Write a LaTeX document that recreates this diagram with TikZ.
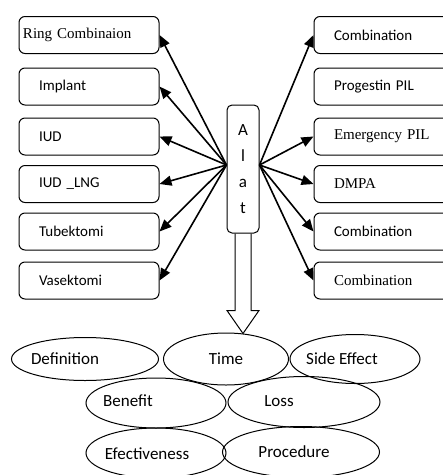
\documentclass[tikz,border=0pt]{standalone}
\usepackage{fontspec}
\setmainfont{Carlito}
\newfontfamily\timesfont{Liberation Serif}
\usetikzlibrary{arrows.meta,shapes.geometric}

\begin{document}
\begin{tikzpicture}[x=1pt,y=-1pt,
    box/.style={draw, line width=1pt, rounded corners=6pt, minimum width=140pt,
        minimum height=37pt, text width=100pt, inner xsep=20pt, align=left,
        font=\fontsize{15}{18}\selectfont},
    blob/.style={draw, ellipse, line width=1pt, inner sep=0pt},
    every label/.style={font=\fontsize{17}{20}\selectfont},
    link/.style={line width=1.6pt, -{Triangle[length=12pt,width=10pt]}}]

                \useasboundingbox (0,0) rectangle (443,475);

                % left side
                \node[box, text width=132pt, inner xsep=4pt] (ring) at (89,35) {\timesfont Ring Combinaion};
                \node[box] (implant) at (89,86.5) {Implant};
                \node[box] (iud) at (89,136.5) {IUD};
                \node[box] (iudlng) at (89,184) {IUD \_LNG};
                \node[box] (tubek) at (89,231.5) {Tubektomi};
                \node[box] (vasek) at (89,280.5) {Vasektomi};

                % right side
                \node[box] (combi) at (384,35) {Combination};
                \node[box] (progpil) at (384,86.5) {Progestin PIL};
                \node[box] (emerpil) at (384,136.5) {\timesfont Emergency PIL};
                \node[box] (dmpa) at (384,184) {\timesfont DMPA};
                \node[box] (combii) at (384,231.5) {Combination};
                \node[box] (combiii) at (384,280.5) {\timesfont Combination};

                \node[draw, line width=1pt, rounded corners=5pt, minimum width=32pt,
                    minimum height=128pt, align=center, font=\fontsize{17}{26}\selectfont]
                    (alat) at (243,169) {A\\l\\a\\t};
                \coordinate (lhub) at ([yshift=4pt]alat.west);
                \coordinate (rhub) at ([yshift=4pt]alat.east);

                \draw[link] (lhub) -- (ring.east);
                \draw[link] (lhub) -- (implant.east);
                \draw[link] (lhub) -- (iud.east);
                \draw[link] (lhub) -- (iudlng.east);
                \draw[link] (lhub) -- (tubek.east);
                \draw[link] (lhub) -- (vasek.east);

                \draw[link] (rhub) -- (combi.west);
                \draw[link] (rhub) -- (emerpil.west);
                \draw[link] (rhub) -- (dmpa.west);
                \draw[link] (rhub) -- (combii.west);
                \draw[link] (rhub) -- (combiii.west);

                % hollow arrow down
                \draw[line width=1pt, line join=miter] ([xshift=-8pt]alat.south) -- ++(0,77) -- ++(-8,0)
                    -- ++(16,23) -- ++(16,-23) -- ++(-8,0) -- ++(0,-77);

                % ellipses
                \node[blob, minimum width=147pt, minimum height=43pt,
                    label={[xshift=-20pt]center:Definition}] (defin) at (85,359) {};
                \node[blob, minimum width=125pt, minimum height=52pt,
                    label={center:Time}] (time) at (226,359) {};
                \node[blob, minimum width=130pt, minimum height=49pt,
                    label={[xshift=-13pt]center:Side Effect}] (sidefx) at (355,359) {};
                \node[blob, minimum width=140pt, minimum height=50pt,
                    label={[xshift=-28pt,yshift=2pt]center:Benefit}] (benefit) at (156,403) {};
                \node[blob, minimum width=152pt, minimum height=51pt,
                    label={[xshift=-25pt,yshift=1pt]center:Loss}] (loss) at (304,402) {};
                \node[blob, minimum width=140pt, minimum height=50pt,
                    label={[xshift=-9pt,yshift=-1pt]center:Efectiveness}] (efect) at (156,453) {};
                \node[blob, minimum width=157pt, minimum height=51pt,
                    label={[xshift=-7pt]center:Procedure}] (proced) at (301,452) {};
            \end{tikzpicture}
\end{document}
